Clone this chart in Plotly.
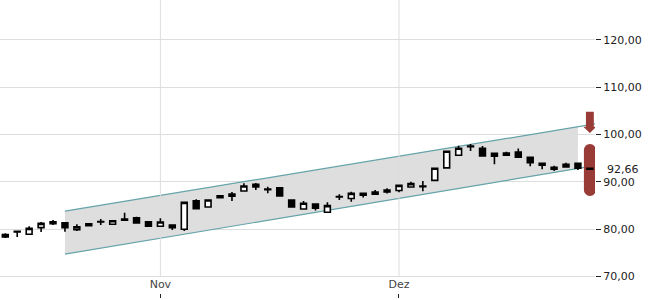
import plotly.graph_objects as go

# ---- data ----
opens  = [78.35, 79.40, 78.90, 80.30, 81.55, 81.30, 79.85, 81.10, 81.50, 81.00,
          82.10, 82.40, 81.55, 80.60, 80.85, 79.95, 86.00, 84.65, 87.05, 86.95,
          88.05, 89.45, 88.35, 88.75, 86.15, 84.25, 85.30, 83.55, 86.80, 86.45,
          87.55, 87.35, 88.25, 88.15, 88.90, 88.95, 90.30, 92.95, 95.60, 97.55,
          97.10, 96.00, 95.60, 96.30, 95.20, 93.90, 92.65, 93.15, 93.90, 92.85]
highs  = [79.10, 79.50, 80.60, 81.50, 81.90, 81.40, 81.00, 81.20, 82.10, 81.85,
          83.45, 82.60, 81.60, 82.30, 80.90, 85.70, 86.30, 86.20, 87.10, 87.85,
          89.70, 89.75, 88.95, 88.80, 86.20, 85.95, 85.35, 85.65, 87.35, 87.90,
          87.60, 88.25, 88.65, 89.30, 90.00, 90.15, 92.90, 96.50, 97.65, 98.00,
          97.55, 96.10, 96.35, 97.05, 95.25, 93.95, 93.40, 94.05, 93.95, 92.90]
lows   = [78.10, 78.30, 78.75, 79.40, 80.85, 79.45, 79.60, 80.55, 80.85, 80.90,
          81.70, 81.20, 80.50, 80.50, 79.80, 79.60, 84.20, 84.60, 86.55, 85.95,
          87.90, 88.25, 87.55, 86.95, 84.60, 84.20, 83.90, 83.50, 86.15, 85.80,
          86.65, 87.30, 87.50, 87.80, 88.85, 88.00, 90.20, 92.90, 95.50, 96.50,
          95.30, 93.70, 95.50, 95.10, 93.30, 92.65, 92.30, 93.10, 92.50, 92.60]
closes = [78.85, 79.50, 80.15, 81.20, 81.15, 80.30, 80.45, 80.70, 81.60, 81.75,
          81.85, 81.30, 80.60, 81.50, 80.30, 85.65, 84.30, 86.15, 86.65, 87.40,
          89.10, 88.90, 88.45, 87.00, 84.65, 85.45, 84.40, 84.95, 86.90, 87.55,
          87.15, 87.85, 87.85, 89.25, 89.60, 89.10, 92.85, 96.45, 97.10, 97.40,
          95.45, 95.40, 96.10, 95.20, 94.05, 93.50, 93.05, 93.70, 92.85, 92.66]
days = list(range(len(opens)))

month_ticks = [13, 33]
month_labels = ["Nov", "Dez"]
price_ticks = [70, 80, 90, 100, 110, 120]

# trend channel
chan_x     = [5, 48, 49.5]
chan_upper = [83.80, 101.64, 102.26]
chan_lower = [74.70, 92.80, 93.43]

# signal markers at the right edge
signal_arrow = [104.8, 100.3]     # top of arrow, tip
signal_range = [87.0, 98.0]       # capsule low / high

red = "#993b37"
teal = "#64a3a9"

fig = go.Figure()

# channel fill (below gridlines and candles)
fig.add_shape(type="path", xref="x", yref="y", layer="below",
              path=(f"M {chan_x[0]},{chan_upper[0]} L {chan_x[1]},{chan_upper[1]} "
                    f"L {chan_x[1]},{chan_lower[1]} L {chan_x[0]},{chan_lower[0]} Z"),
              fillcolor="#dedede", line=dict(width=0))
for ys in (chan_upper, chan_lower):
    fig.add_shape(type="line", xref="x", yref="y", layer="between",
                  x0=chan_x[0], y0=ys[0], x1=chan_x[2], y1=ys[2],
                  line=dict(color=teal, width=1.2))

# vertical month gridlines (stop at the lowest price gridline)
for t in month_ticks:
    fig.add_shape(type="line", xref="x", yref="y", x0=t, x1=t,
                  y0=price_ticks[0], y1=140, line=dict(color="#dddddd", width=1),
                  layer="between")

# signal arrow (down) and range capsule at the last candle
xm = days[-1]
at, tip = signal_arrow
head_base = tip + 1.35
fig.add_shape(type="path", xref="x", yref="y", layer="above",
              path=(f"M {xm-0.33},{at} L {xm+0.33},{at} L {xm+0.33},{head_base} "
                    f"L {xm+0.55},{head_base} L {xm},{tip} L {xm-0.55},{head_base} "
                    f"L {xm-0.33},{head_base} Z"),
              fillcolor=red, line=dict(width=0))
lo, hi = signal_range
r = 1.3
x0c, x1c = xm - 0.5, xm + 0.5
fig.add_shape(type="path", xref="x", yref="y", layer="between",
              path=(f"M {x0c},{lo + r} L {x0c},{hi - r} "
                    f"C {x0c},{hi - r*0.45} {xm - 0.5*0.55},{hi} {xm},{hi} "
                    f"C {xm + 0.5*0.55},{hi} {x1c},{hi - r*0.45} {x1c},{hi - r} "
                    f"L {x1c},{lo + r} "
                    f"C {x1c},{lo + r*0.45} {xm + 0.5*0.55},{lo} {xm},{lo} "
                    f"C {xm - 0.5*0.55},{lo} {x0c},{lo + r*0.45} {x0c},{lo + r} Z"),
              fillcolor=red, line=dict(width=0))

fig.add_trace(go.Candlestick(
    x=days, open=opens, high=highs, low=lows, close=closes,
    increasing=dict(line=dict(color="black", width=1.6), fillcolor="white"),
    decreasing=dict(line=dict(color="black", width=1.6), fillcolor="black"),
    whiskerwidth=0, showlegend=False))

fig.add_annotation(xref="paper", yref="y", x=1, y=closes[-1], xanchor="left",
                   xshift=10, text=f"{closes[-1]:.2f}".replace(".", ","),
                   showarrow=False, font=dict(size=11, color="#222"))

fig.update_layout(
    width=650, height=300, margin=dict(l=0, r=55, t=0, b=7),
    plot_bgcolor="white", paper_bgcolor="white",
    separators=",.",
    font=dict(family="DejaVu Sans", size=11, color="#222"),
    xaxis=dict(range=[-0.444, 49.43], tickvals=month_ticks, ticktext=month_labels,
               showgrid=False, zeroline=False, showline=False,
               ticks="outside", ticklen=4, tickcolor="#222",
               ticklabelposition="inside", rangeslider=dict(visible=False),
               fixedrange=True),
    yaxis=dict(range=[66.47, 128.46], side="right", tickvals=price_ticks,
               tickformat=".2f", showgrid=True, gridcolor="#dddddd",
               zeroline=False, showline=False, ticks="outside", ticklen=5,
               tickcolor="#222", fixedrange=True),
)

fig.write_html("out.html")
